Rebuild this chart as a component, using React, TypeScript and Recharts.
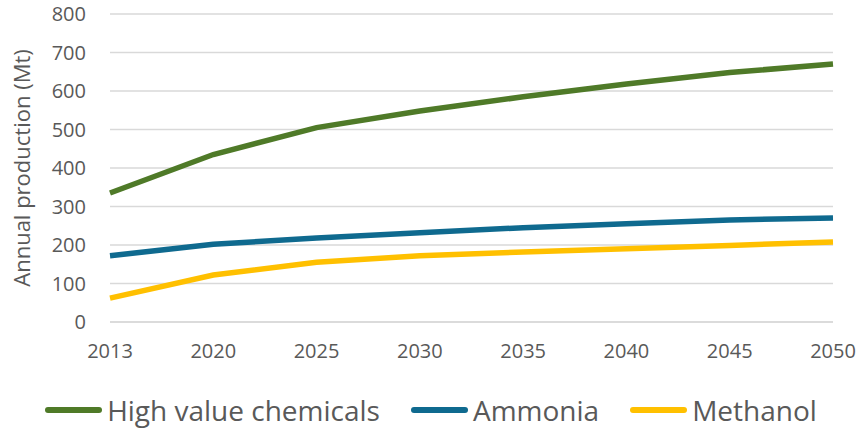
import React from "react";
import { LineChart, Line, XAxis, YAxis, CartesianGrid, Legend } from "recharts";

const years = ["2013", "2020", "2025", "2030", "2035", "2040", "2045", "2050"];
const highValueChemicals = [335, 435, 505, 548, 585, 618, 648, 670];
const ammonia = [172, 202, 218, 232, 245, 255, 265, 270];
const methanol = [62, 122, 155, 172, 182, 190, 199, 208];
const yTicks = [0, 100, 200, 300, 400, 500, 600, 700, 800];

const seriesInfo = [
  { key: "hvc", name: "High value chemicals", color: "#4f7a28" },
  { key: "ammonia", name: "Ammonia", color: "#0f6a8f" },
  { key: "methanol", name: "Methanol", color: "#ffc000" },
];

const data = years.map((year, i) => ({
  year,
  hvc: highValueChemicals[i],
  ammonia: ammonia[i],
  methanol: methanol[i],
}));

const FONT = "'Open Sans', sans-serif";
const TEXT = "#595959";

function LegendContent() {
  return (
    <div
      style={{
        display: "flex",
        justifyContent: "center",
        alignItems: "center",
        paddingTop: 29,
        fontFamily: FONT,
        fontSize: 28,
        lineHeight: "38px",
        color: TEXT,
      }}
    >
      {seriesInfo.map((s, i) => (
        <div
          key={s.key}
          style={{ display: "flex", alignItems: "center", marginLeft: i ? 31 : 0 }}
        >
          <span
            style={{
              display: "inline-block",
              width: 57,
              height: 6,
              borderRadius: 3,
              background: s.color,
              marginRight: 5,
            }}
          />
          <span>{s.name}</span>
        </div>
      ))}
    </div>
  );
}

export default function App() {
  return (
    <div style={{ position: "absolute", left: 0, top: 0, background: "#fff" }}>
      <LineChart
        width={862}
        height={428}
        data={data}
        margin={{ top: 14, right: 29, left: 0, bottom: 0 }}
      >
        <CartesianGrid vertical={false} stroke="#d9d9d9" strokeWidth={1.5} />
        <XAxis
          dataKey="year"
          height={40}
          tickLine={false}
          tickSize={0}
          tickMargin={22}
          axisLine={{ stroke: "#d9d9d9", strokeWidth: 1.5 }}
          tick={{ fill: TEXT, fontSize: 20, fontFamily: FONT }}
          interval={0}
        />
        <YAxis
          width={110}
          domain={[0, 800]}
          ticks={yTicks}
          tickLine={false}
          tickSize={0}
          tickMargin={24}
          axisLine={false}
          tick={{ fill: TEXT, fontSize: 20, fontFamily: FONT }}
          label={{
            value: "Annual production (Mt)",
            angle: -90,
            position: "insideLeft",
            offset: 22,
            style: { fill: TEXT, fontSize: 22, fontFamily: FONT, textAnchor: "middle" },
          }}
        />
        <Legend
          verticalAlign="bottom"
          height={66}
          wrapperStyle={{ left: 0, width: 862 }}
          content={<LegendContent />}
        />
        {seriesInfo.map((s) => (
          <Line
            key={s.key}
            type="linear"
            dataKey={s.key}
            name={s.name}
            stroke={s.color}
            strokeWidth={5.5}
            dot={false}
            isAnimationActive={false}
          />
        ))}
      </LineChart>
    </div>
  );
}
